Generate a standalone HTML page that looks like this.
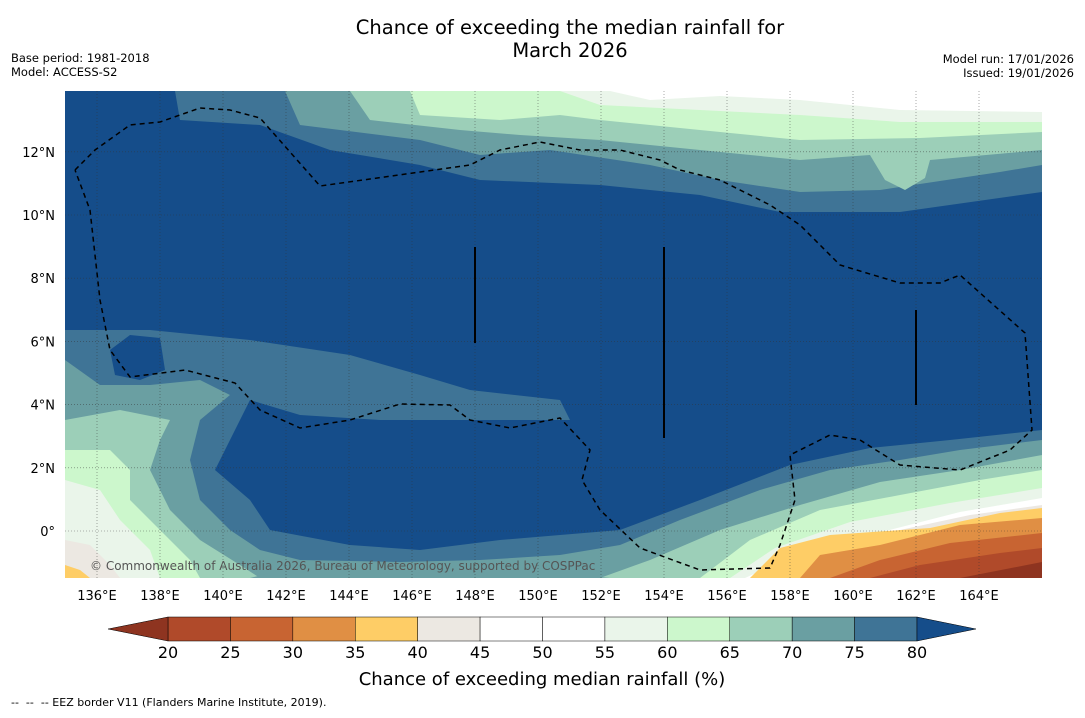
<!DOCTYPE html>
<html><head><meta charset="utf-8"><style>
body{margin:0;background:#fff;font-family:"Liberation Sans","DejaVu Sans",sans-serif}
svg text{font-family:"DejaVu Sans","Liberation Sans",sans-serif}
</style></head><body>
<svg id="c" width="1085" height="713" xmlns="http://www.w3.org/2000/svg">
<text x="570" y="34" font-size="19.5" text-anchor="middle">Chance of exceeding the median rainfall for</text>
<text x="570" y="57" font-size="19.5" text-anchor="middle">March 2026</text>
<text x="11" y="62" font-size="11.5">Base period: 1981-2018</text>
<text x="11" y="76" font-size="11.5">Model: ACCESS-S2</text>
<text x="1074" y="63" font-size="11.5" text-anchor="end">Model run: 17/01/2026</text>
<text x="1074" y="77" font-size="11.5" text-anchor="end">Issued: 19/01/2026</text>
<defs><clipPath id="mc"><rect x="65" y="91" width="977" height="487"/></clipPath></defs>
<g id="map" clip-path="url(#mc)">
<rect x="65" y="91" width="977" height="487" fill="#154d8a"/>
</g>
<g id="axes"></g>
<g id="cbar"></g>
<text x="542" y="685" font-size="18" text-anchor="middle">Chance of exceeding median rainfall (%)</text>
<text x="11" y="706" font-size="11" xml:space="preserve" style="white-space:pre">--  --  -- EEZ border V11 (Flanders Marine Institute, 2019).</text>
</svg>
<script>
const levels=[20,25,30,35,40,45,50,55,60,65,70,75,80];
const binColors=["#b04a2a","#c86432","#e08f44","#fecd66","#ece8e2","#ffffff","#ffffff","#eaf5ea","#ccf7cc","#9ccfb8","#6a9fa2","#3f7496"];
const lowColor="#8e3420", highColor="#154d8a";
const lonTicks=[136,138,140,142,144,146,148,150,152,154,156,158,160,162,164];
const latTicks=[0,2,4,6,8,10,12];
const NS="http://www.w3.org/2000/svg";
const svg=document.getElementById('c');
const lonX=l=>65.5+(l-135)*31.5;
const latY=a=>531-a*31.6;
function mk(tag,attrs,parent){const e=document.createElementNS(NS,tag);for(const k in attrs)e.setAttribute(k,attrs[k]);parent.appendChild(e);return e;}
const map=document.getElementById('map');
const shapes=[
["#3f7496","top-75",[[175,91],[180,120],[260,125],[330,150],[420,165],[480,180],[600,185],[700,195],[780,212],[900,212],[1042,192],[1042,91]]],
["#6a9fa2","top-70",[[285,91],[300,125],[420,140],[480,155],[550,150],[650,165],[720,180],[800,192],[880,190],[1000,172],[1042,165],[1042,91]]],
["#9ccfb8","top-65",[[350,91],[370,120],[460,130],[520,135],[600,140],[700,150],[800,160],[870,155],[885,180],[905,190],[925,178],[930,160],[1042,150],[1042,91]]],
["#ccf7cc","top-60",[[410,91],[420,115],[500,120],[560,115],[600,120],[700,130],[800,140],[920,138],[1042,132],[1042,91]]],
["#eaf5ea","top-55",[[560,91],[600,105],[700,110],[800,115],[900,122],[1042,122],[1042,91]]],
["#ffffff","top-50",[[610,91],[650,100],[720,96],[800,100],[900,110],[1042,112],[1042,91]]],
["#3f7496","bottom-75",[[65,330],[150,330],[250,340],[350,355],[420,375],[470,390],[560,400],[570,420],[450,420],[380,420],[300,415],[250,400],[240,420],[230,440],[215,470],[250,500],[270,530],[350,545],[420,550],[500,540],[560,535],[620,530],[700,500],[790,465],[870,448],[950,440],[1042,430],[1042,578],[65,578]]],
["#154d8a","dark-blob",[[110,350],[130,335],[160,338],[165,370],[140,380],[115,375]]],
["#6a9fa2","bottom-70",[[65,360],[100,385],[150,385],[200,380],[230,395],[200,420],[190,460],[200,500],[230,530],[260,550],[300,560],[400,562],[480,560],[560,555],[620,545],[680,520],[760,490],[830,470],[900,460],[960,450],[1042,440],[1042,578],[65,578]]],
["#9ccfb8","bottom-65",[[65,420],[120,410],[170,420],[160,440],[150,470],[170,510],[200,540],[240,565],[260,578],[600,578],[650,560],[720,530],[800,505],[880,482],[960,470],[1042,455],[1042,578],[65,578]]],
["#6a9fa2","bottom-70b",[[250,578],[300,565],[400,568],[520,570],[610,578]]],
["#ccf7cc","left-60",[[65,450],[110,450],[130,470],[130,500],[160,530],[190,560],[200,578],[65,578]]],
["#ccf7cc","right-60",[[700,578],[750,540],[820,510],[900,495],[980,480],[1042,470],[1042,578]]],
["#eaf5ea","left-55",[[65,480],[100,490],[120,520],[150,550],[160,578],[65,578]]],
["#eaf5ea","right-55",[[730,578],[775,548],[850,522],[950,503],[1042,488],[1042,578]]],
["#ffffff","right-50",[[745,578],[795,555],[870,535],[960,512],[1042,498],[1042,578]]],
["#ece8e2","right-40",[[770,578],[810,555],[900,530],[970,515],[1042,505],[1042,578]]],
["#ece8e2","left-40",[[65,540],[90,545],[110,565],[120,578],[65,578]]],
["#fecd66","right-35",[[750,578],[780,548],[830,535],[930,528],[1000,513],[1042,508],[1042,578]]],
["#e08f44","right-30",[[800,578],[820,555],[880,545],[960,525],[1042,518],[1042,578]]],
["#c86432","right-25",[[830,578],[880,560],[950,543],[1042,533],[1042,578]]],
["#b04a2a","right-20",[[870,578],[920,565],[1000,553],[1042,548],[1042,578]]],
["#8e3420","right-low",[[960,578],[1042,562],[1042,578]]],
["#fecd66","left-35",[[65,565],[80,570],[90,578],[65,578]]]
];
shapes.forEach(s=>{const p=mk('polygon',{points:s[2].map(q=>q.join(',')).join(' '),fill:s[0]},map);

});
lonTicks.forEach(l=>{const g=mk('line',{x1:lonX(l),x2:lonX(l),y1:91,y2:578,stroke:'#333','stroke-width':0.6,'stroke-dasharray':'1,2',opacity:0.7},map);

});
latTicks.forEach(a=>{const g=mk('line',{x1:65,x2:1042,y1:latY(a),y2:latY(a),stroke:'#333','stroke-width':0.6,'stroke-dasharray':'1,2',opacity:0.7},map);

});
const eez=[[75,170],[95,150],[130,125],[160,122],[200,108],[230,110],[260,118],[320,186],[470,165],[500,150],[540,142],[580,150],[620,150],[660,160],[680,170],[720,180],[770,205],[800,225],[840,265],[900,283],[940,283],[960,275],[1025,333],[1032,430],[1010,450],[960,470],[900,465],[860,440],[830,435],[790,455],[795,500],[780,545],[770,568],[700,570],[640,548],[600,510],[582,480],[590,450],[560,418],[510,428],[470,420],[450,405],[400,404],[350,420],[300,428],[260,410],[235,383],[185,370],[130,377],[110,350],[100,300],[90,210],[75,170]];
const e=mk('polyline',{points:eez.map(q=>q.join(',')).join(' '),fill:'none',stroke:'#000','stroke-width':1.5,'stroke-dasharray':'5,4'},map);


[[475,247,343],[664,247,438],[916,310,405]].forEach((v,i)=>{const l=mk('line',{x1:v[0],x2:v[0],y1:v[1],y2:v[2],stroke:'#000','stroke-width':2},map);

});
const cp=mk('text',{x:90,y:570,'font-size':12,fill:'#555'},map);cp.textContent='© Commonwealth of Australia 2026, Bureau of Meteorology, supported by COSPPac';


const ax=document.getElementById('axes');
lonTicks.forEach(l=>{const t=mk('text',{x:lonX(l),y:600,'font-size':13,'text-anchor':'middle'},ax);t.textContent=l+'°E';

});
latTicks.forEach(a=>{const t=mk('text',{x:55,y:latY(a)+5,'font-size':13,'text-anchor':'end'},ax);t.textContent=a===0?'0°':a+'°N';

});
const cb=document.getElementById('cbar');
const cx0=168,cx1=917,cy0=617,cy1=641,bw=(cx1-cx0)/binColors.length;
binColors.forEach((c,i)=>{const r=mk('rect',{x:cx0+i*bw,y:cy0,width:bw,height:cy1-cy0,fill:c,stroke:'#000','stroke-width':0.5},cb);

});
const lt=mk('polygon',{points:`${cx0},${cy0} 108,${(cy0+cy1)/2} ${cx0},${cy1}`,fill:lowColor,stroke:'#000','stroke-width':0.5},cb);


const ht=mk('polygon',{points:`${cx1},${cy0} 976,${(cy0+cy1)/2} ${cx1},${cy1}`,fill:highColor,stroke:'#000','stroke-width':0.5},cb);


levels.forEach((v,i)=>{const t=mk('text',{x:cx0+i*bw,y:658,'font-size':16,'text-anchor':'middle'},cb);t.textContent=v;

});
</script>
</body></html>
